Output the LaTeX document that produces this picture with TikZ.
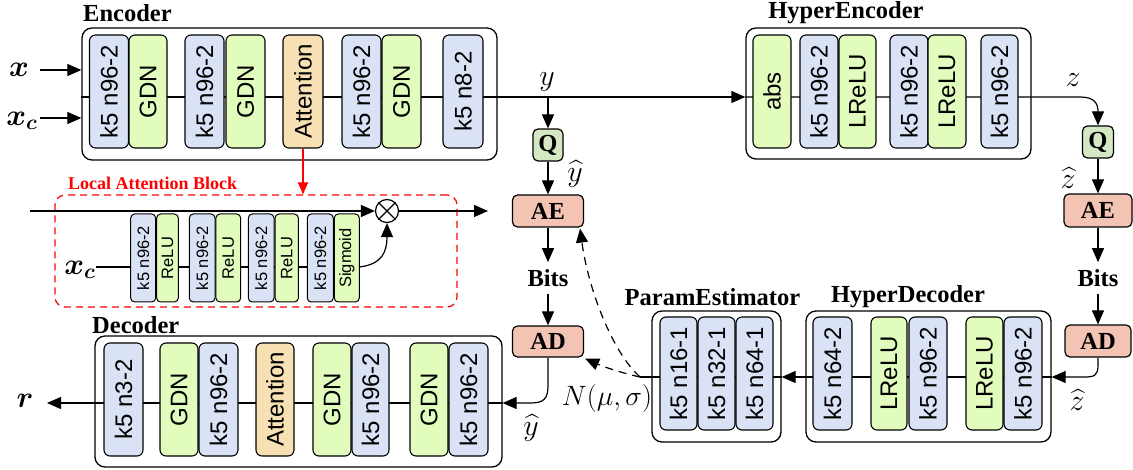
\RequirePackage{fix-cm}
\documentclass[tikz,border=0pt]{standalone}
\usepackage{amsmath}
\usepackage[no-math]{fontspec}
\setmainfont{Liberation Serif}
\newfontfamily\blkfont{Liberation Sans}
\usetikzlibrary{arrows.meta,calc}
\pgfdeclarelayer{background}
\pgfsetlayers{background,main}
\definecolor{cblue}{RGB}{218,227,246}
\definecolor{cgreen}{RGB}{226,252,190}
\definecolor{corange}{RGB}{246,224,180}
\definecolor{cq}{RGB}{212,232,196}
\definecolor{csalmon}{RGB}{243,195,180}
\newcommand{\vtxt}[1]{\rotatebox{90}{#1}}
\tikzset{
  blk/.style={draw=black, line width=1.1pt, rounded corners=6pt, inner sep=0pt, minimum height=113pt, font=\blkfont\fontsize{24}{24}\selectfont},
  sblk/.style={draw=black, line width=1pt, rounded corners=4pt, inner sep=0pt, minimum height=88pt, font=\blkfont\fontsize{16.5}{16.5}\selectfont},
  bb/.style={fill=cblue}, gg/.style={fill=cgreen}, oo/.style={fill=corange},
  outer/.style={draw=black, line width=1.3pt, rounded corners=10pt, inner sep=0pt},
  ttl/.style={font=\bfseries\fontsize{24.5}{25}\selectfont, inner sep=0pt},
  mlab/.style={font=\fontsize{30}{30}\selectfont, inner sep=0pt},
  op/.style={draw=black, line width=1.2pt, rounded corners=5pt, inner sep=0pt, font=\bfseries\fontsize{24.5}{25}\selectfont},
  ln/.style={line width=1.2pt},
  arr/.style={line width=1.2pt, -{Triangle[length=14pt,width=12pt]}},
  dsh/.style={dash pattern=on 8pt off 6pt},
}
\begin{document}
\begin{tikzpicture}[x=1pt,y=-1pt]
\useasboundingbox (0,0) rectangle (1133,470);
% ---------------- Encoder
\node[outer, minimum width=415pt, minimum height=132pt] (enc) at (289.5,94) {};
\node[ttl, anchor=west] (tenc) at (83,13) {Encoder};
\node[blk,bb,minimum width=39pt] (e1) at (109,91.5) {\vtxt{k5 n96-2}};
\node[blk,gg,minimum width=38pt] (e2) at (148,91.5) {\vtxt{GDN}};
\node[blk,bb,minimum width=39pt] (e3) at (204.5,91.5) {\vtxt{k5 n96-2}};
\node[blk,gg,minimum width=39pt] (e4) at (245.5,91.5) {\vtxt{GDN}};
\node[blk,oo,minimum width=40pt] (e5) at (303,91.5) {\vtxt{Attention}};
\node[blk,bb,minimum width=39pt] (e6) at (361.5,91.5) {\vtxt{k5 n96-2}};
\node[blk,gg,minimum width=39pt] (e7) at (401.5,91.5) {\vtxt{GDN}};
\node[blk,bb,minimum width=40pt] (e8) at (463,91.5) {\vtxt{k5 n8-2}};
\node[mlab] (xin) at (19,70) {$\boldsymbol{x}$};
\node[mlab] (xcin) at (22,121) {$\boldsymbol{x_c}$};
\coordinate (xs) at (40,70);
\coordinate (xcs) at (40,118);
\draw[arr] (xs) -- (enc.west |- xs);
\draw[arr] (xcs) -- (enc.west |- xcs);
% ---------------- HyperEncoder
\node[outer, minimum width=285pt, minimum height=131pt] (henc) at (888.5,93.5) {};
\node[ttl] (thenc) at (846,13) {HyperEncoder};
\node[blk,gg,minimum width=38pt] (h1) at (772,91.5) {\vtxt{abs}};
\node[blk,bb,minimum width=38pt] (h2) at (819,91.5) {\vtxt{k5 n96-2}};
\node[blk,gg,minimum width=37pt] (h3) at (857.5,91.5) {\vtxt{LReLU}};
\node[blk,bb,minimum width=38pt] (h4) at (909,91.5) {\vtxt{k5 n96-2}};
\node[blk,gg,minimum width=38pt] (h5) at (947,91.5) {\vtxt{LReLU}};
\node[blk,bb,minimum width=37pt] (h6) at (999.5,91.5) {\vtxt{k5 n96-2}};
\coordinate (yl) at (0,97);
% ---------------- main column
\node[mlab] (ylab) at (547,82) {$y$};
\node[op, fill=cq, minimum width=30pt, minimum height=32pt] (Q1) at (548,145) {Q};
\node[mlab] (yh1) at (575,174) {$\widehat{y}$};
\node[op, fill=csalmon, minimum width=71pt, minimum height=32pt] (AE1) at (548,211) {AE};
\node[ttl, inner ysep=7pt] (bits1) at (548,278) {Bits};
\node[op, fill=csalmon, minimum width=71pt, minimum height=31pt] (AD1) at (548,341.5) {AD};
\draw[arr] (Q1.north |- yl) -- (Q1.north);
\draw[arr] (Q1.south) -- (AE1.north);
\draw[arr] (AE1.south) -- (bits1.north);
\draw[arr] (bits1.south) -- (AD1.north);
% ---------------- right column
\node[mlab] (zlab) at (1073,80) {$z$};
\node[op, fill=cq, minimum width=31pt, minimum height=32pt] (Q2) at (1098,142) {Q};
\node[mlab] (zh1) at (1068,178) {$\widehat{z}$};
\node[op, fill=csalmon, minimum width=68pt, minimum height=33pt] (AE2) at (1098,210.5) {AE};
\node[ttl, inner ysep=7pt] (bits2) at (1098,278) {Bits};
\node[op, fill=csalmon, minimum width=66pt, minimum height=32pt] (AD2) at (1098,341) {AD};
\draw[arr] (Q2.south) -- (AE2.north);
\draw[arr] (AE2.south) -- (bits2.north);
\draw[arr] (bits2.south) -- (AD2.north);
% ---------------- HyperDecoder
\node[outer, minimum width=245pt, minimum height=131pt] (hdec) at (928.5,376.5) {};
\node[ttl] (thdec) at (908,297) {HyperDecoder};
\node[blk,bb,minimum width=39pt] (hd1) at (832.5,373.5) {\vtxt{k5 n64-2}};
\node[blk,gg,minimum width=36pt] (hd2) at (889,373.5) {\vtxt{LReLU}};
\node[blk,bb,minimum width=38pt] (hd3) at (928,373.5) {\vtxt{k5 n96-2}};
\node[blk,gg,minimum width=37pt] (hd4) at (984.5,373.5) {\vtxt{LReLU}};
\node[blk,bb,minimum width=38pt] (hd5) at (1023,373.5) {\vtxt{k5 n96-2}};
\node[mlab] (zh2) at (1077,400) {$\widehat{z}$};
% ---------------- ParamEstimator
\node[outer, minimum width=129pt, minimum height=131pt] (pe) at (716.5,376.5) {};
\node[ttl] (tpe) at (712.5,297) {ParamEstimator};
\node[blk,bb,minimum width=37pt] (p1) at (678.5,373.5) {\vtxt{k5 n16-1}};
\node[blk,bb,minimum width=37pt] (p2) at (716.5,373.5) {\vtxt{k5 n32-1}};
\node[blk,bb,minimum width=37pt] (p3) at (754.5,373.5) {\vtxt{k5 n64-1}};
\node[mlab, font=\fontsize{28}{28}\selectfont] (nlab) at (607,399) {$N(\mu,\sigma)$};
\coordinate (hdl) at (0,377);
\coordinate (pm) at (640,377);
% ---------------- Decoder
\node[outer, minimum width=407pt, minimum height=131pt] (dec) at (298.5,401.5) {};
\node[ttl, anchor=west] (tdec) at (92,325) {Decoder};
\node[blk,bb,minimum width=39pt] (d1) at (123.5,399.5) {\vtxt{k5 n3-2}};
\node[blk,gg,minimum width=38pt] (d2) at (179,399.5) {\vtxt{GDN}};
\node[blk,bb,minimum width=39pt] (d3) at (218.5,399.5) {\vtxt{k5 n96-2}};
\node[blk,oo,minimum width=38pt] (d4) at (275,399.5) {\vtxt{Attention}};
\node[blk,gg,minimum width=38pt] (d5) at (332,399.5) {\vtxt{GDN}};
\node[blk,bb,minimum width=37pt] (d6) at (370.5,399.5) {\vtxt{k5 n96-2}};
\node[blk,gg,minimum width=38pt] (d7) at (429,399.5) {\vtxt{GDN}};
\node[blk,bb,minimum width=39pt] (d8) at (468.5,399.5) {\vtxt{k5 n96-2}};
\node[mlab] (rlab) at (25,401) {$\boldsymbol{r}$};
\node[mlab] (yh2) at (531,428) {$\widehat{y}$};
\coordinate (dl) at (0,403);
\coordinate (rtip) at (47,403);
% ---------------- Local Attention Block
\node[draw=red, line width=1.2pt, dash pattern=on 7pt off 5pt, rounded corners=10pt, minimum width=402pt, minimum height=112pt] (lab) at (256,251) {};
\node[ttl, anchor=west, text=red, font=\bfseries\fontsize{18}{18}\selectfont] (tlab) at (68,183) {Local Attention Block};
\node[sblk,bb,minimum width=25pt] (a1) at (143.2,258) {\vtxt{k5 n96-2}};
\node[sblk,gg,minimum width=21.6pt] (a2) at (167.5,258) {\vtxt{ReLU}};
\node[sblk,bb,minimum width=25.7pt] (a3) at (202.2,258) {\vtxt{k5 n96-2}};
\node[sblk,gg,minimum width=24.7pt] (a4) at (228.3,258) {\vtxt{ReLU}};
\node[sblk,bb,minimum width=25.7pt] (a5) at (261.2,258) {\vtxt{k5 n96-2}};
\node[sblk,gg,minimum width=23.3pt] (a6) at (286.7,258) {\vtxt{ReLU}};
\node[sblk,bb,minimum width=26pt] (a7) at (320.3,258) {\vtxt{k5 n96-2}};
\node[sblk,gg,minimum width=25pt] (a8) at (346.8,258) {\vtxt{Sigmoid}};
\node[circle, draw, line width=1.2pt, minimum size=23pt, inner sep=0pt] (ot) at (387,211) {};
\draw[line width=1.1pt] (ot.north west) -- (ot.south east) (ot.north east) -- (ot.south west);
\node[mlab] (xc2) at (80,270) {$\boldsymbol{x_c}$};
\coordinate (al) at (0,267);
\coordinate (labin) at (30,211);
\coordinate (labout) at (488,211);
\draw[arr] (labin) -- (ot.west);
\draw[arr] (ot.east) -- (labout);
\draw[arr] (a8.east |- al) .. controls (382,264) and (387,252) .. (ot.south);
\draw[red, line width=1.2pt, -{Triangle[length=12pt,width=10pt]}] (e5.south) -- (e5.south |- lab.north);
% ---------------- connectors
\begin{pgfonlayer}{background}
\draw[arr] (enc.west |- yl) -- (henc.west |- yl);
\draw[arr] (henc.west |- yl) -- (1080,97) .. controls (1094,97) and (1098,103) .. (Q2.north);
\draw[arr] (AD2.south) -- (1098,365) .. controls (1098,376) and (1094,377) .. (1084,377) -- (hdec.east |- hdl);
\draw[ln] (hdec.east |- hdl) -- (hdec.west |- hdl);
\draw[arr] (hdec.west |- hdl) -- (pe.east |- hdl);
\draw[ln] (pe.east |- hdl) -- (pm);
\draw[arr] (AD1.south) -- (548,385) .. controls (548,399) and (544,403) .. (530,403) -- (dec.east |- dl);
\draw[ln] (dec.east |- dl) -- (dec.west |- dl);
\draw[arr] (dec.west |- dl) -- (rtip);
\draw[ln] (xc2.east |- al) -- (a8.west |- al);
\end{pgfonlayer}
\draw[arr, dsh] (pm) .. controls (612,352) and (588,288) .. ($(AE1.south east)+(-4,1)$);
\draw[arr, dsh] (pm) .. controls (622,373) and (604,367) .. ($(AD1.south east)+(1,1)$);
\end{tikzpicture}
\end{document}
